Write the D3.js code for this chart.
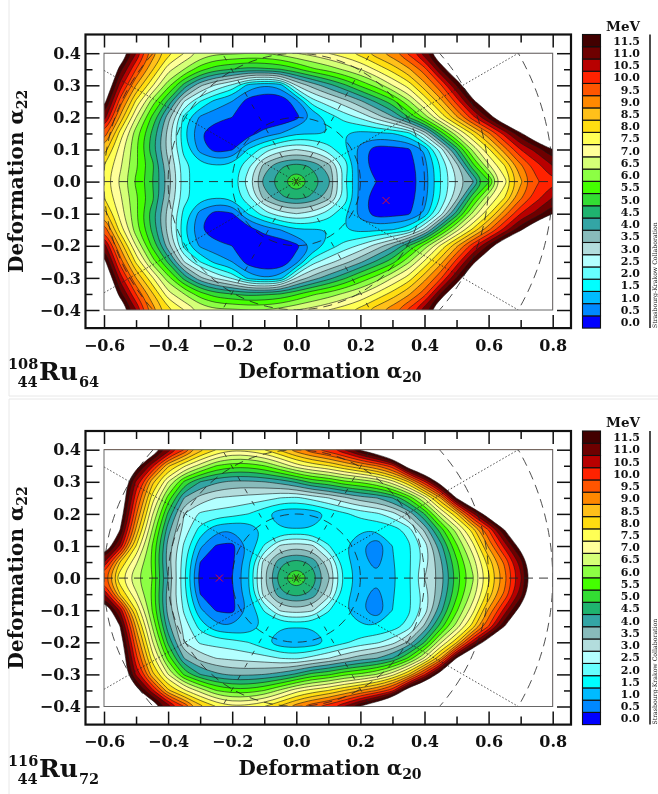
<!DOCTYPE html>
<html><head><meta charset="utf-8">
<script src="https://cdnjs.cloudflare.com/ajax/libs/d3/7.8.5/d3.min.js"></script>
<style>html,body{margin:0;padding:0;background:#fff}svg{display:block;filter:blur(.35px)}text{font-family:"DejaVu Serif",serif;font-weight:bold;fill:#111}</style>
</head><body><svg id="c" width="658" height="794"></svg>
<script>
const alpha20 = [-.6,-.55,-.5,-.45,-.4,-.35,-.3,-.25,-.2,-.15,-.1,-.05,0,.05,.1,.15,.2,.25,.3,.35,.4,.45,.5,.55,.6,.65,.7,.75,.8];
const alpha22 = [0,.05,.1,.15,.2,.25,.3,.35,.4];
const ru108_00 = [7.8,6.9,5.9,5.0,3.8,2.2,1.6,1.55,1.7,2.8,4.2,4.85,5.7,4.85,4.2,2.1,.85,.5,.2,.3,.7,2.0,3.0,3.9,5.4,7.3,8.9,9.9,10.4];
const ru108_05 = [8.0,7.1,6.1,5.2,3.6,2.2,1.65,1.5,1.6,2.35,3.7,4.4,4.7,4.4,3.7,2.4,.75,.2,.1,.3,.8,2.0,3.3,5.3,6.9,8.0,9.4,10.3,11];
const ru108_10 = [8.8,7.3,6.1,4.7,3.3,1.8,.8,.25,.45,1.55,2.25,2.8,3.0,2.8,2.25,1.6,.8,.2,.3,.4,1.1,2.7,4.7,6.6,7.9,9.3,10.5,11.2,12];
const ru108_15 = [9.9,7.8,6.2,4.9,3.3,1.6,.5,.05,.05,.25,.7,1.0,1.45,1.45,1.5,1.5,1.3,1.4,1.5,1.8,3.2,5.2,6.8,8.1,9.4,10.7,11.9,13,14];
const ru108_20 = [11.3,8.9,7.0,5.4,3.7,1.8,.9,.7,.5,.1,.05,.05,.35,1.0,1.7,2.2,2.6,3.2,3.9,5.0,6.2,7.6,8.9,10.3,11.6,13,14,15,16];
const ru108_25 = [12.3,9.8,7.9,6.3,4.9,3.0,2.0,1.3,1.0,.25,.02,.02,.8,2.3,2.8,3.3,3.9,4.6,5.3,6.4,7.6,8.8,10.2,11.8,13,14,15,16,17];
const ru108_30 = [13.2,10.8,9,7.6,6.2,4.8,3.6,2.9,2.4,1.3,1.0,1.2,3.0,3.7,4.3,4.9,5.6,6.2,7.0,7.7,8.8,9.9,11.5,13,14,15,16,17,18];
const ru108_35 = [14,11.7,10,8.6,7.2,6.5,5.7,5.2,5.0,4.8,4.9,5.0,5.4,5.9,6.2,6.6,7.0,7.6,8.2,8.9,9.8,11.5,13,14,15,16,17,18,19];
const ru108_40 = [15,13,11,9.3,8.2,7.5,6.9,6.6,6.6,6.5,6.5,6.7,7.0,7.2,7.5,7.8,8.2,8.8,9.3,10.1,11.3,13,14,15,16,17,18,19,20];
const ru116_00 = [9.6,7.6,6.6,6.0,4.0,2.1,.25,.02,.5,1.45,3.4,4.85,5.7,4.85,3.6,1.9,1.2,1.15,1.4,1.9,3.0,3.7,5.2,6.4,7.9,9.3,10.9,13,14.5];
const ru116_05 = [11,8.5,7.1,5.9,3.7,2.2,.5,.05,.4,1.4,3.25,4.35,4.7,4.35,3.25,1.7,1.2,.8,1.45,1.9,2.7,3.9,5.4,6.7,8.2,9.6,11.2,13.5,15];
const ru116_10 = [13,10.9,8,6,3.8,2.4,1.1,.45,.35,1.05,2.05,3.1,3.3,3.1,2.05,1.55,1.1,.5,1.5,1.9,2.7,4.3,5.9,7.3,9.1,10.7,12.4,14,15.5];
const ru116_15 = [13.7,12,8.9,6.5,4.2,2.8,1.8,1.1,1,1.1,1.6,1.55,1.55,1.55,1.6,1.6,1.55,1.5,1.7,2.2,3.6,5.2,6.7,8.2,10,12,14,15,16];
const ru116_20 = [14,12.6,9.6,7.1,4.9,3,2.4,2.3,2.2,2,1.6,1.1,1.05,1.1,1.55,1.9,2.2,2.4,2.8,3.6,5,6.9,8.4,10.8,12.7,14,15,16,17];
const ru116_25 = [14.5,13,10.2,7.8,5.8,4,3.3,3,2.9,2.8,2.7,2.5,2.4,2.7,3,3.4,3.8,4,4.5,5.6,7.1,9,12.1,14,15,16,17,18,19];
const ru116_30 = [15,13,10.9,8.7,7,5.4,4.5,4.1,3.9,3.9,4,4.2,4.6,5.2,5.4,5.9,6.1,6.5,7.3,8.5,10.4,12.6,14,15,16,17,18,19,20];
const ru116_35 = [16,14,12.4,10.7,8.6,7.6,6.8,6,5.7,5.7,6,6.6,7.3,7.7,8,8.5,9,9.5,10.3,12.7,14,15,16,17,18,19,20,21,22];
const ru116_40 = [18,16,14,12.8,11.3,10,8.7,8,7.6,7.7,8,8.6,9.3,9.9,10.3,11,12.1,13,14.5,16,17,18,19,20,21,22,23,24,25];
const levels = d3.range(0,12,.5);
const levelColors = ["#0000ff","#0088ff","#00bbff","#00ffff","#66ffff","#b3ffff","#b3dddd","#88bbbb","#33a5a5","#1fb36f","#33dd33","#44ff00","#8cff44","#d5ff77","#ffff99","#ffff55","#ffdd11","#ffc01a","#ff8800","#ff5500","#ff2200","#b80000","#6e0000","#420000"];
const xTicks = [-.6,-.4,-.2,0,.2,.4,.6,.8];
const xMinor = [-.5,-.3,-.1,.1,.3,.5,.7];
const yTicks = [-.4,-.3,-.2,-.1,0,.1,.2,.3,.4];
const yMinor = [-.35,-.25,-.15,-.05,.05,.15,.25,.35];
const radii = [.2,.4,.6,.8];
const dottedRays = [30,150,210,330];
const dashedRays = [60,120,240,300];
const panels = [
 {id:"a",rows:[ru108_00,ru108_05,ru108_10,ru108_15,ru108_20,ru108_25,ru108_30,ru108_35,ru108_40],min:[.28,-.059],top:34.5,mass:"108",sub:"44",n:"64"},
 {id:"b",rows:[ru116_00,ru116_05,ru116_10,ru116_15,ru116_20,ru116_25,ru116_30,ru116_35,ru116_40],min:[-.24,0],top:431,mass:"116",sub:"44",n:"72"}
];
const svg = d3.select("#c");
const defs = svg.append("defs");
const frameL=85.5, frameR=571, frameH=293.6;
const x = d3.scaleLinear().domain([-.6,.8]).range([104,552.7]);
[[9,0,9,396],[9,396,658,396],[9,399,658,399],[9,399,9,794]].forEach(l=>svg.append("line").attr("x1",l[0]).attr("y1",l[1]).attr("x2",l[2]).attr("y2",l[3]).attr("stroke","#e8e8e8").attr("stroke-width",1));

panels.forEach(p=>{
  const g = svg.append("g").attr("transform",`translate(0,${p.top})`);
  const y = d3.scaleLinear().domain([.4,-.4]).range([18.7,275.5]);
  defs.append("clipPath").attr("id","clip"+p.id).append("rect")
    .attr("x",x(-.6)).attr("y",y(.4)).attr("width",x(.8)-x(-.6)).attr("height",y(-.4)-y(.4));
  const rows = [...p.rows].reverse().concat(p.rows.slice(1));
  const padded = [rows[0],...rows,rows[rows.length-1]].map(r=>[r[0],...r,r[r.length-1]]);
  const nx = padded[0].length, ny = padded.length, step=.05;
  const flat = padded.flat();
  const cont = d3.contours().size([nx,ny]).smooth(true);
  const toX = c => x(-.6+(c-1.5)*step), toY = c => y(.4-(c-1.5)*step);
  const line = d3.line().x(d=>toX(d[0])).y(d=>toY(d[1])).curve(d3.curveBasisClosed);
  const map = g.append("g").attr("clip-path",`url(#clip${p.id})`);
  map.append("rect").attr("x",x(-.6)).attr("y",y(.4)).attr("width",x(.8)-x(-.6)).attr("height",y(-.4)-y(.4)).attr("fill",levelColors[0]);
  const ths = levels.slice(1).concat([12]);
  ths.forEach((t,i)=>{
    const c = cont.contour(flat,t);
    const d = c.coordinates.flat().map(r=>line(r.slice(0,-1))).join("");
    map.append("path").attr("d",d).attr("fill-rule","evenodd")
      .attr("fill",i<levelColors.length-1?levelColors[i+1]:"#fff")
      .attr("stroke","#1a1a1a").attr("stroke-width",.6);
  });
  const ov = g.append("g").attr("clip-path",`url(#clip${p.id})`).attr("fill","none").attr("stroke","#222");
  const ppu = x(1)-x(0);
  radii.forEach(r=>ov.append("circle").attr("cx",x(0)).attr("cy",y(0)).attr("r",r*ppu).attr("stroke-width",.8).attr("stroke-dasharray","9 6"));
  ov.append("line").attr("x1",x(-.6)).attr("x2",x(.8)).attr("y1",y(0)).attr("y2",y(0)).attr("stroke-width",.9).attr("stroke-dasharray","9 6");
  dottedRays.forEach(a=>{const t=a*Math.PI/180;ov.append("line").attr("x1",x(0)).attr("y1",y(0)).attr("x2",x(Math.cos(t)*.8)).attr("y2",y(Math.sin(t)*.8)).attr("stroke-width",.8).attr("stroke-dasharray","1.5 2");});
  dashedRays.forEach(a=>{const t=a*Math.PI/180;ov.append("line").attr("x1",x(0)).attr("y1",y(0)).attr("x2",x(Math.cos(t)*.5)).attr("y2",y(Math.sin(t)*.5)).attr("stroke-width",.8).attr("stroke-dasharray","5 9");});
  g.append("path").attr("d",`M${x(p.min[0])-3.5},${y(p.min[1])-3.5}l7,7m0,-7l-7,7`).attr("stroke","#e0102a").attr("stroke-width",1).attr("fill","none");
  g.append("rect").attr("x",x(-.6)).attr("y",y(.4)).attr("width",x(.8)-x(-.6)).attr("height",y(-.4)-y(.4)).attr("fill","none").attr("stroke","#666").attr("stroke-width",1);
  const fmt = d3.format(".1f");
  const axis=(gen,vals,size,tr,lab)=>{const a=g.append("g").attr("transform",tr).call(gen.tickValues(vals).tickSize(size).tickFormat(lab?fmt:"")); a.select(".domain").remove(); a.selectAll("line").attr("stroke","#111").attr("stroke-width",1.5); a.attr("font-size",null).attr("font-family",null); a.selectAll("text").attr("font-size",16).attr("font-family",null); return a;};
  const H=frameH;
  axis(d3.axisBottom(x).tickPadding(11.5),xTicks,-13,`translate(0,${H})`,true);
  axis(d3.axisBottom(x),xMinor,-8,`translate(0,${H})`,false);
  axis(d3.axisTop(x),xTicks,-13,`translate(0,0)`,false);
  axis(d3.axisTop(x),xMinor,-8,`translate(0,0)`,false);
  axis(d3.axisLeft(y).tickPadding(4.5),yTicks,-14,`translate(${frameL},0)`,true);
  axis(d3.axisLeft(y),yMinor,-7,`translate(${frameL},0)`,false);
  axis(d3.axisRight(y),yTicks,-14,`translate(${frameR},0)`,false);
  axis(d3.axisRight(y),yMinor,-7,`translate(${frameR},0)`,false);
  g.append("rect").attr("x",frameL).attr("y",0).attr("width",frameR-frameL).attr("height",H).attr("fill","none").attr("stroke","#111").attr("stroke-width",2.2);
  const xt=g.append("text").attr("x",330).attr("y",H+50).attr("text-anchor","middle").attr("font-size",20);
  xt.append("tspan").text("Deformation α");
  xt.append("tspan").text("20").attr("font-size",14).attr("dy",4);
  const yt=g.append("text").attr("transform",`translate(23,${H/2}) rotate(-90)`).attr("text-anchor","middle").attr("font-size",20);
  yt.append("tspan").text("Deformation α");
  yt.append("tspan").text("22").attr("font-size",14).attr("dy",4);
  g.append("text").attr("x",8).attr("y",H+41).attr("font-size",14.5).text(p.mass);
  g.append("text").attr("x",17.5).attr("y",H+59).attr("font-size",14.5).text(p.sub);
  g.append("text").attr("x",39).attr("y",H+52).attr("font-size",25).text("Ru");
  g.append("text").attr("x",79).attr("y",H+59).attr("font-size",14.5).text(p.n);
  const cb = d3.scaleBand().domain(levels.slice().reverse()).range([0,H]);
  const bar=g.append("g");
  bar.selectAll("rect").data(levels).join("rect").attr("x",582.5).attr("width",18).attr("y",d=>cb(d)).attr("height",cb.bandwidth())
    .attr("fill",(d,i)=>levelColors[i]).attr("stroke","#111").attr("stroke-width",1.1);
  bar.selectAll("text").data(levels).join("text").attr("x",640).attr("y",d=>cb(d)+cb.bandwidth()/2+4).attr("text-anchor","end").attr("font-size",11).text(d=>d.toFixed(1));
  g.append("text").attr("x",640).attr("y",-4).attr("text-anchor","end").attr("font-size",13.5).text("MeV");
  g.append("line").attr("x1",650).attr("x2",650).attr("y1",0).attr("y2",H).attr("stroke","#111").attr("stroke-width",1.5);
  g.append("text").attr("transform",`translate(656.5,${H}) rotate(-90)`).attr("font-size",6.2).attr("font-family","Liberation Serif").style("font-weight","normal").text("Strasbourg-Krakow Collaboration");
});
</script></body></html>
